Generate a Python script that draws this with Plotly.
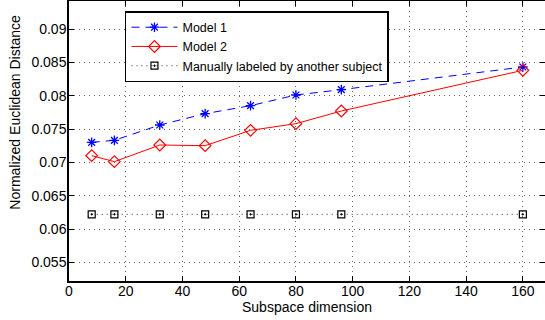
import plotly.graph_objects as go

dims = [8, 16, 32, 48, 64, 80, 96, 160]
model1 = [0.0730, 0.0733, 0.0756, 0.0773, 0.0785, 0.0801, 0.0809, 0.0843]
model2 = [0.0710, 0.0701, 0.0726, 0.0725, 0.0748, 0.0758, 0.0777, 0.0838]
manual = [0.0622, 0.0622, 0.0622, 0.0622, 0.0622, 0.0622, 0.0622, 0.0622]

xticks = [0, 20, 40, 60, 80, 100, 120, 140, 160]
yticks = [0.055, 0.06, 0.065, 0.07, 0.075, 0.08, 0.085, 0.09]
yticklabels = ["0.055", "0.06", "0.065", "0.07", "0.075", "0.08", "0.085", "0.09"]

FONT = "Liberation Sans, Arial, sans-serif"

fig = go.Figure()
fig.add_trace(go.Scatter(
    x=dims, y=model1, name="Model 1", mode="lines+markers",
    line=dict(color="#0000ff", width=1, dash="8px,6px"),
    marker=dict(symbol="asterisk-open", size=8, color="#0000ff",
                line=dict(color="#0000ff", width=1.3)),
))
fig.add_trace(go.Scatter(
    x=dims, y=model2, name="Model 2", mode="lines+markers",
    line=dict(color="#ff0000", width=1),
    marker=dict(symbol="diamond-open", size=9, color="#ff0000",
                line=dict(color="#ff0000", width=1.2)),
))
fig.add_trace(go.Scatter(
    x=dims, y=manual, name="Manually labeled by another subject", mode="lines+markers",
    line=dict(color="#333333", width=1, dash="1px,4px"),
    marker=dict(symbol="square-open-dot", size=7, color="#000000",
                line=dict(color="#000000", width=1.2)),
))
# invisible trace to carry the right-hand tick axis
fig.add_trace(go.Scatter(x=[dims[0]], y=[manual[0]], yaxis="y2", mode="markers",
                         marker=dict(opacity=0), showlegend=False, hoverinfo="skip"))

yr = [0.0522, 0.0942]
fig.update_layout(
    width=545, height=320,
    margin=dict(l=69, r=0, t=1, b=39),
    paper_bgcolor="white", plot_bgcolor="white",
    font=dict(family=FONT, size=14, color="black"),
    showlegend=True,
    legend=dict(x=0.1176, y=0.964, xanchor="left", yanchor="top",
                bgcolor="white", bordercolor="black", borderwidth=1.5,
                font=dict(family=FONT, size=12.5), tracegroupgap=0,
                itemwidth=46),
    xaxis=dict(range=[0, 167.8], tickvals=xticks, ticks="inside", ticklen=5,
               tickcolor="black", showline=True, linecolor="black", linewidth=1.5,
               mirror="ticks", showgrid=True, gridcolor="#666666", griddash="1px,4px",
               gridwidth=1, zeroline=False, ticklabelstandoff=-4,
               title=dict(text="Subspace dimension", standoff=0, font=dict(size=14))),
    yaxis=dict(range=yr, tickvals=yticks, ticktext=yticklabels, ticks="inside",
               ticklen=5, tickcolor="black", showline=True, linecolor="black",
               linewidth=1.5, showgrid=True, gridcolor="#666666", griddash="1px,4px",
               gridwidth=1, zeroline=False, ticklabelstandoff=-2),
    yaxis2=dict(range=yr, overlaying="y", side="right", tickvals=yticks,
                ticks="inside", ticklen=5, tickcolor="black", showticklabels=False,
                showline=False, showgrid=False, zeroline=False),
    annotations=[dict(text="Normalized Euclidean Distance", textangle=-90,
                      xref="paper", yref="paper", x=-0.113, y=0.602,
                      xanchor="center", yanchor="middle", showarrow=False,
                      font=dict(family=FONT, size=14, color="black"))],
)

fig.write_html("out.html")
